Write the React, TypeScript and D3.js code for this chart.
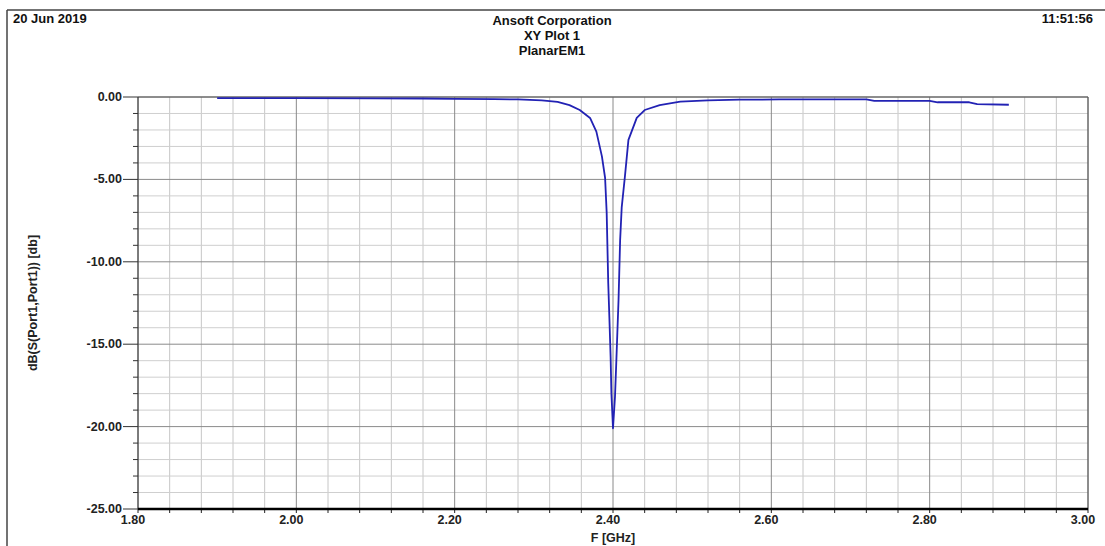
import React from "react";
import * as d3 from "d3";

const freqGHz = [1.90, 2.00, 2.10, 2.16, 2.20, 2.25, 2.28, 2.31, 2.33, 2.345, 2.358, 2.371, 2.379, 2.386, 2.390, 2.392, 2.394, 2.3955, 2.397, 2.398, 2.400, 2.4025, 2.404, 2.4055, 2.407, 2.408, 2.409, 2.411, 2.415, 2.4195, 2.43, 2.44, 2.459, 2.485, 2.52, 2.56, 2.61, 2.72, 2.73, 2.80, 2.81, 2.85, 2.86, 2.90];
const s11dB = [-0.07, -0.07, -0.08, -0.09, -0.11, -0.13, -0.15, -0.2, -0.3, -0.49, -0.79, -1.27, -2.1, -3.6, -4.9, -7.0, -11.3, -13.5, -15.8, -18.0, -20.1, -18.2, -16.3, -14.3, -12.3, -10.5, -8.7, -6.7, -4.85, -2.6, -1.27, -0.79, -0.49, -0.28, -0.2, -0.16, -0.15, -0.15, -0.24, -0.24, -0.32, -0.32, -0.43, -0.47];

const xMajorTicks = [1.8, 2.0, 2.2, 2.4, 2.6, 2.8, 3.0];
const yMajorTicks = [0, -5, -10, -15, -20, -25];

const W = 1105, H = 546;
const L = 138, R = 1088, T = 97, B = 509;

export default function App() {
  const x = d3.scaleLinear().domain([1.8, 3.0]).range([L, R]);
  const y = d3.scaleLinear().domain([-25, 0]).range([B, T]);
  const xMinor = d3.range(0, 31).map((i) => 1.8 + i * 0.04);
  const yMinor = d3.range(0, 26).map((i) => -i);
  const line = d3.line<number>().x((_, i) => x(freqGHz[i])).y((d) => y(d));
  const font = "'Liberation Sans', Arial, sans-serif";
  const isMajorX = (v: number) => xMajorTicks.some((m) => Math.abs(m - v) < 1e-6);
  const isMajorY = (v: number) => yMajorTicks.includes(v);
  return (
    <svg width={W} height={H} style={{ position: "absolute", left: 0, top: 0, background: "#fff" }} fontFamily={font}>
      <rect x={0} y={0} width={W} height={H} fill="#fff" />
      {/* outer frame */}
      <line x1={7} y1={10} x2={W} y2={10} stroke="#444" strokeWidth={1.5} />
      <line x1={7} y1={10} x2={7} y2={H} stroke="#444" strokeWidth={1.5} />
      {/* header */}
      <text x={13} y={23} fontSize={13} fontWeight="bold" fill="#111">20 Jun 2019</text>
      <text x={W - 12} y={23} fontSize={13} fontWeight="bold" fill="#111" textAnchor="end">11:51:56</text>
      <text x={552} y={25} fontSize={13} fontWeight="bold" fill="#111" textAnchor="middle">Ansoft Corporation</text>
      <text x={552} y={40} fontSize={13} fontWeight="bold" fill="#111" textAnchor="middle">XY Plot 1</text>
      <text x={552} y={55} fontSize={13} fontWeight="bold" fill="#111" textAnchor="middle">PlanarEM1</text>
      {/* minor grid */}
      {xMinor.filter((v) => !isMajorX(v)).map((v, i) => (
        <line key={"xm" + i} x1={x(v)} x2={x(v)} y1={T} y2={B} stroke="#c6c6c6" strokeWidth={1} />
      ))}
      {yMinor.filter((v) => !isMajorY(v)).map((v, i) => (
        <line key={"ym" + i} x1={L} x2={R} y1={y(v)} y2={y(v)} stroke="#cfcfcf" strokeWidth={1} />
      ))}
      {/* major grid */}
      {xMajorTicks.map((v, i) => (
        <line key={"xM" + i} x1={x(v)} x2={x(v)} y1={T} y2={B} stroke="#8a8a8a" strokeWidth={1} />
      ))}
      {yMajorTicks.map((v, i) => (
        <line key={"yM" + i} x1={L} x2={R} y1={y(v)} y2={y(v)} stroke="#8a8a8a" strokeWidth={1} />
      ))}
      {/* plot border */}
      <line x1={L} x2={R} y1={T} y2={T} stroke="#555" strokeWidth={1} />
      <line x1={R} x2={R} y1={T} y2={B} stroke="#555" strokeWidth={1} />
      <line x1={L} x2={L} y1={T} y2={B} stroke="#333" strokeWidth={1} />
      {/* left ticks */}
      {yMinor.map((v, i) => (
        <line key={"yt" + i} x1={isMajorY(v) ? 123 : 133} x2={L} y1={y(v)} y2={y(v)} stroke="#333" strokeWidth={1} />
      ))}
      {/* bottom ticks */}
      {xMinor.map((v, i) => (
        <line key={"xt" + i} x1={x(v)} x2={x(v)} y1={B} y2={B + 4} stroke="#222" strokeWidth={1} />
      ))}
      <line x1={L} x2={R} y1={B} y2={B} stroke="#000" strokeWidth={2.5} />
      {/* tick labels */}
      {yMajorTicks.map((v, i) => (
        <text key={"yl" + i} x={122} y={y(v) + 4} fontSize={12.5} fontWeight="bold" fill="#222" textAnchor="end">{v.toFixed(2)}</text>
      ))}
      {xMajorTicks.map((v, i) => (
        <text key={"xl" + i} x={x(v) - 5} y={524} fontSize={12.5} fontWeight="bold" fill="#222" textAnchor="middle">{v.toFixed(2)}</text>
      ))}
      {/* axis titles */}
      <text x={613} y={542} fontSize={12.5} fontWeight="bold" fill="#222" textAnchor="middle">F [GHz]</text>
      <text transform={`translate(37,${(T + B) / 2}) rotate(-90)`} fontSize={12.5} fontWeight="bold" fill="#222" textAnchor="middle">dB(S(Port1,Port1)) [db]</text>
      {/* curve */}
      <path d={line(s11dB) || ""} fill="none" stroke="#2222b4" strokeWidth={1.8} strokeLinejoin="round" />
    </svg>
  );
}
